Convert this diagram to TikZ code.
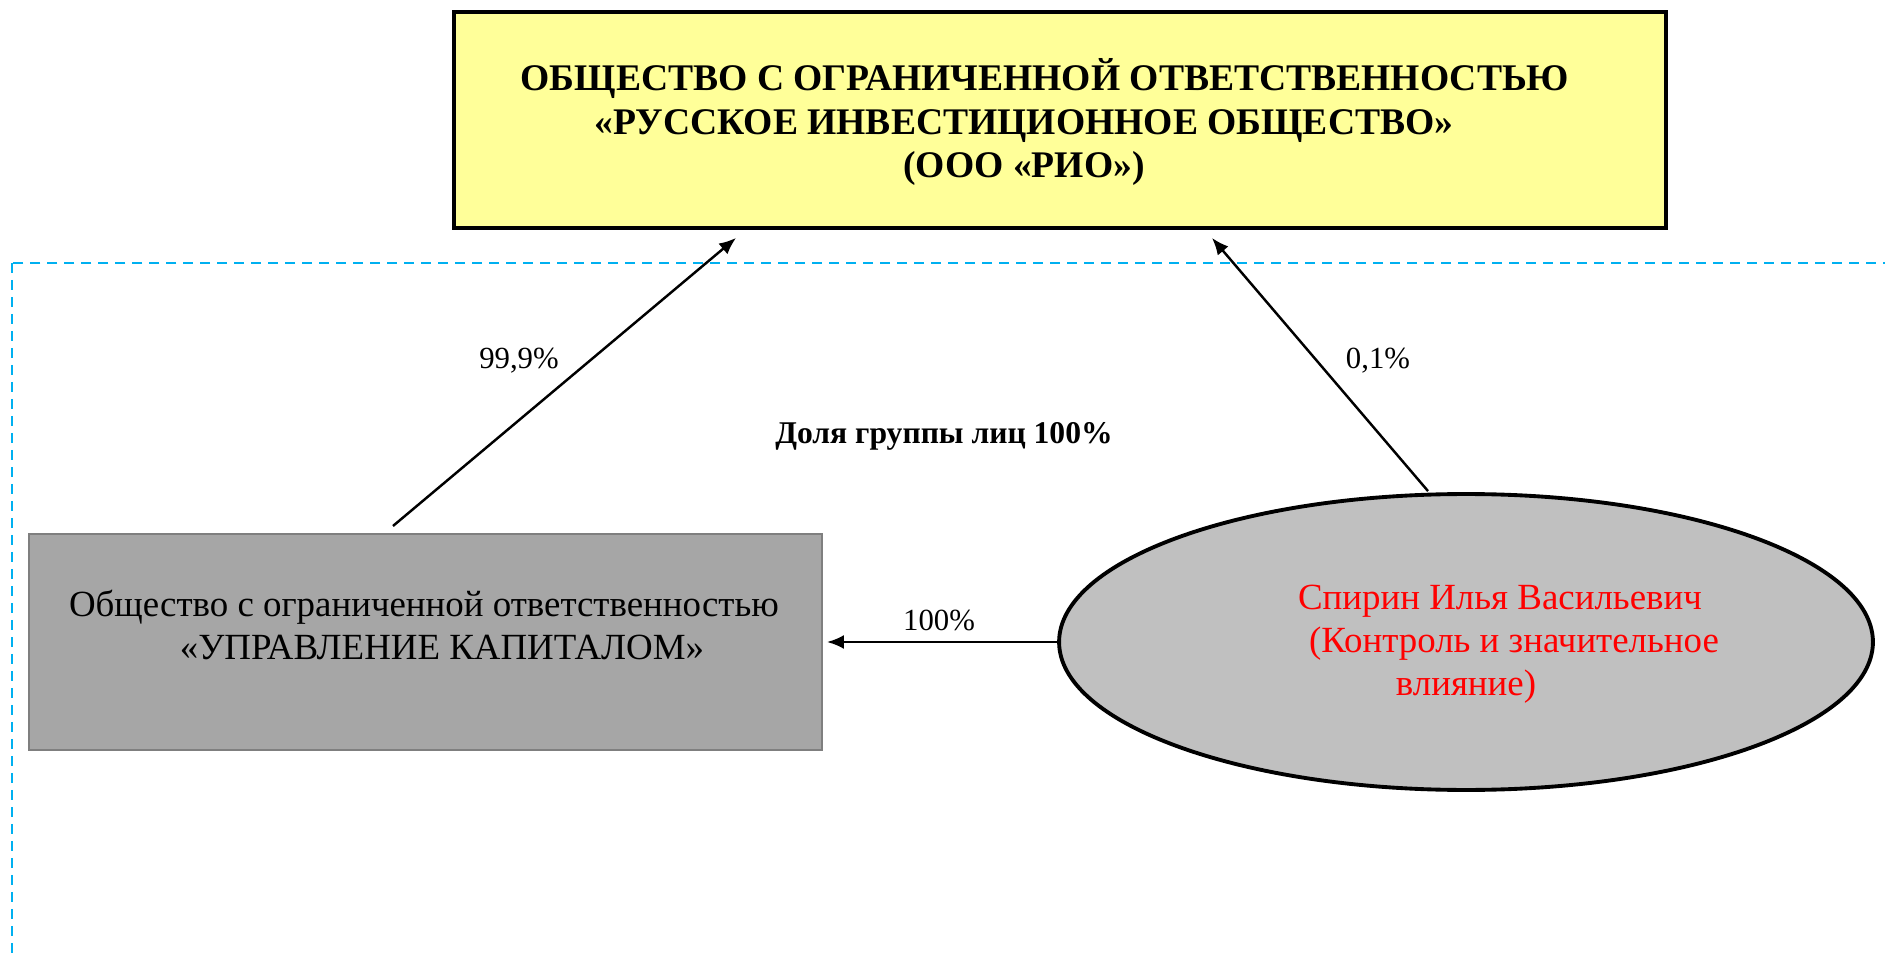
\documentclass[tikz,border=0pt]{standalone}
\usepackage{fontspec}
\setmainfont{Liberation Serif}
\usetikzlibrary{shapes,arrows.meta}
\definecolor{riofill}{HTML}{FFFF99}
\definecolor{groupline}{HTML}{00B0F0}
\definecolor{firmfill}{HTML}{A6A6A6}
\definecolor{firmline}{HTML}{7F7F7F}
\definecolor{personfill}{HTML}{C0C0C0}

\begin{document}
\begin{tikzpicture}[x=0.02cm, y=-0.02cm,
    riobox/.style={rectangle, draw, line width=2.2pt, fill=riofill, minimum width=24.24cm, minimum height=4.32cm},
    firmbox/.style={rectangle, draw=firmline, line width=1.2pt, fill=firmfill, minimum width=15.86cm, minimum height=4.32cm},
    personbox/.style={ellipse, draw, line width=2.2pt, fill=personfill, minimum width=16.28cm, minimum height=5.92cm},
    bigtext/.style={align=center, font=\fontsize{21}{24.5}\selectfont},
    share/.style={font=\fontsize{17.5}{20}\selectfont},
    link/.style={line width=1.4pt, -{Latex[length=0.34cm,width=0.28cm]}}]
    \useasboundingbox (0,0) rectangle (1885,955);
    % group border
    \draw [groupline, line width=1.2pt, dash pattern=on 0.2cm off 0.14cm] (12,263) rectangle (1900,955.6);
    % the three parties
    \node (rio) at (1060,120) [riobox] {};
    \node (firm) at (425.5,642) [firmbox] {};
    \node (person) at (1466,642) [personbox] {};
    \node (riotext) at (1024,122) [bigtext, font=\fontsize{21.4}{24.5}\selectfont\bfseries]
      {\hspace*{0.84cm}ОБЩЕСТВО С ОГРАНИЧЕННОЙ ОТВЕТСТВЕННОСТЬЮ\\«РУССКОЕ ИНВЕСТИЦИОННОЕ ОБЩЕСТВО»\\(ООО «РИО»)};
    \node (firmtext) at (442,625) [bigtext]
      {Общество с ограниченной ответственностью\hspace*{0.72cm}\\«УПРАВЛЕНИЕ КАПИТАЛОМ»};
    \node (persontext) at (1500,644) [bigtext, text=red]
      {Спирин Илья Васильевич\\\hspace*{0.56cm}(Контроль и значительное\\влияние)\hspace*{1.36cm}};
    % shares
    \draw [link] ([xshift=-0.65cm, yshift=0.14cm]firm.north) -- ([xshift=-6.48cm, yshift=-0.16cm]rio.south);
    \draw [link] ([xshift=-0.76cm, yshift=0.02cm]person.north) -- ([xshift=3.04cm, yshift=-0.16cm]rio.south);
    \draw [link, shorten >=0.08cm] (person.west) -- (firm.east);
    \foreach \x/\y/\t in {519/361/{99,9\%}, 1378/361/{0,1\%}, 939/620/{100\%}} {
      \node (share\x) at (\x,\y) [share] {\t};
    }
    \node (group) at (944,436) [font=\fontsize{18}{21}\selectfont\bfseries] {Доля группы лиц 100\%};
\end{tikzpicture}
\end{document}
